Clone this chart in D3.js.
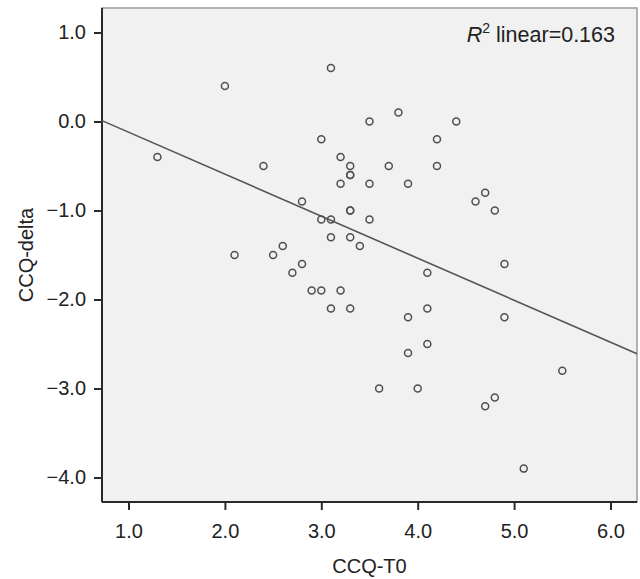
<!DOCTYPE html>
<html lang="en">

<head>
  <meta charset="utf-8">
  <title>CCQ scatter</title>
  <script src="https://d3js.org/d3.v7.min.js"></script>
  <style>
    body { margin: 0; background: #fff; }
    text { font-family: "Liberation Sans", Arial, sans-serif; fill: #222; }
  </style>
</head>

<body>
  <svg width="640" height="579"></svg>
  <script>
    // CCQ-T0 vs CCQ-delta
    const ccqT0 = [1.3, 2.0, 2.1, 2.4, 2.5, 2.6, 2.7, 2.8, 2.8, 2.9,
      3.0, 3.0, 3.0, 3.1, 3.1, 3.1, 3.1, 3.2, 3.2, 3.2,
      3.3, 3.3, 3.3, 3.3, 3.3, 3.3, 3.3, 3.4, 3.5, 3.5,
      3.5, 3.6, 3.7, 3.8, 3.9, 3.9, 3.9, 4.0, 4.1, 4.1,
      4.1, 4.2, 4.2, 4.4, 4.6, 4.7, 4.7, 4.8, 4.8, 4.9,
      4.9, 5.1, 5.5];
    const ccqDelta = [-0.4, 0.4, -1.5, -0.5, -1.5, -1.4, -1.7, -0.9, -1.6, -1.9,
      -0.2, -1.1, -1.9, 0.6, -1.1, -1.3, -2.1, -0.4, -0.7, -1.9,
      -0.5, -0.6, -0.6, -1.0, -1.0, -1.3, -2.1, -1.4, 0.0, -0.7,
      -1.1, -3.0, -0.5, 0.1, -0.7, -2.2, -2.6, -3.0, -1.7, -2.1,
      -2.5, -0.2, -0.5, 0.0, -0.9, -0.8, -3.2, -1.0, -3.1, -1.6,
      -2.2, -3.9, -2.8];
    const xTicks = [1, 2, 3, 4, 5, 6];
    const yTicks = [1, 0, -1, -2, -3, -4];
    // fit line as drawn (R2 linear = 0.163)
    const fitIntercept = 0.352;
    const fitSlope = -0.472;
    const r2Label = "0.163";

    const svg = d3.select("svg");
    const m = { left: 102, right: 3, top: 8, bottom: 77 };
    const W = 640, H = 579;

    const x = d3.scaleLinear().domain([0.725, 6.275]).range([m.left, W - m.right]);
    const y = d3.scaleLinear().domain([-4.275, 1.275]).range([H - m.bottom, m.top]);

    // plot background + light frame
    svg.append("rect")
      .attr("x", m.left).attr("y", m.top)
      .attr("width", W - m.right - m.left).attr("height", H - m.bottom - m.top)
      .attr("fill", "#f1f1f1").attr("stroke", "#9a9a9a").attr("stroke-width", 1.5);

    const fmt = d => (d < 0 ? "\u2212" + d3.format(".1f")(-d) : d3.format(".1f")(d));

    const xAxis = svg.append("g")
      .attr("transform", `translate(0,${H - m.bottom})`)
      .call(d3.axisBottom(x).tickValues(xTicks).tickFormat(fmt).tickSize(8).tickPadding(14));
    const yAxis = svg.append("g")
      .attr("transform", `translate(${m.left},0)`)
      .call(d3.axisLeft(y).tickValues(yTicks).tickFormat(fmt).tickSize(8).tickPadding(8));

    [xAxis, yAxis].forEach(a => {
      a.select(".domain").attr("stroke", "#2a2a2a").attr("stroke-width", 2);
      a.selectAll(".tick line").attr("stroke", "#2a2a2a").attr("stroke-width", 2);
      a.selectAll(".tick text").style("font-size", "20px").attr("fill", "#222");
    });
    // cut the domain to the plot box (no outer ticks)
    xAxis.select(".domain").attr("d", `M${m.left},0H${W - m.right}`);
    yAxis.select(".domain").attr("d", `M0,${m.top}V${H - m.bottom}`);

    // regression line
    const [x0, x1] = x.domain();
    svg.append("line")
      .attr("x1", x(x0)).attr("y1", y(fitIntercept + fitSlope * x0))
      .attr("x2", x(x1)).attr("y2", y(fitIntercept + fitSlope * x1))
      .attr("stroke", "#555").attr("stroke-width", 1.6);

    // points
    svg.append("g").selectAll("circle")
      .data(ccqT0.map((v, i) => [v, ccqDelta[i]]))
      .join("circle")
      .attr("cx", d => x(d[0]))
      .attr("cy", d => y(d[1]))
      .attr("r", 3.5)
      .attr("fill", "none")
      .attr("stroke", "#505050")
      .attr("stroke-width", 1.5);

    // R2 annotation
    const note = svg.append("text")
      .attr("x", 615).attr("y", 42)
      .attr("text-anchor", "end")
      .style("font-size", "21.5px");
    note.append("tspan").attr("font-style", "italic").text("R");
    note.append("tspan").attr("dy", -9).style("font-size", "14px").text("2");
    note.append("tspan").attr("dy", 9).text(" linear=" + r2Label);

    // axis titles
    svg.append("text")
      .attr("x", (m.left + W - m.right) / 2).attr("y", 573)
      .attr("text-anchor", "middle")
      .style("font-size", "20px")
      .text("CCQ-T0");
    svg.append("text")
      .attr("transform", `translate(33,${(m.top + H - m.bottom) / 2}) rotate(-90)`)
      .attr("text-anchor", "middle")
      .style("font-size", "20px")
      .text("CCQ-delta");
  </script>
</body>

</html>
